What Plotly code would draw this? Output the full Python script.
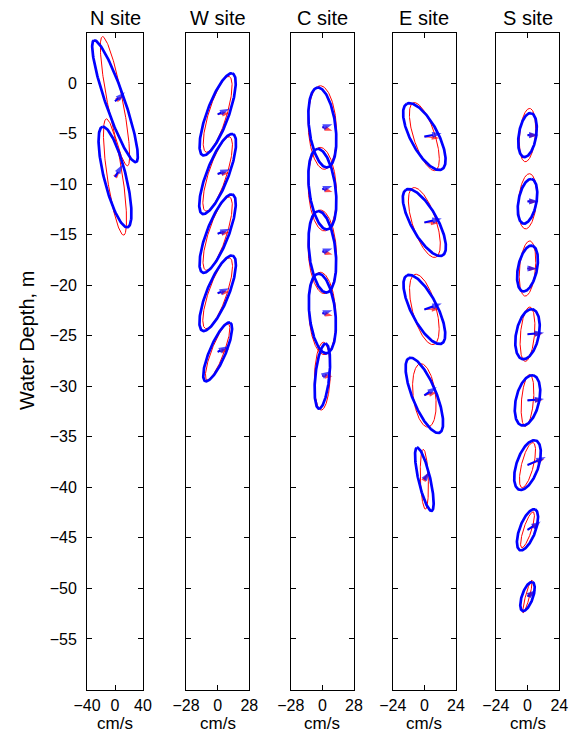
import numpy as np
import plotly.graph_objects as go

# ---------------- data (cm/s, degrees, m) ----------------
sites = ["N site", "W site", "C site", "E site", "S site"]
x_limits = [40, 28, 28, 24, 24]
depth_ticks = [0, -5, -10, -15, -20, -25, -30, -35, -40, -45, -50, -55]

# N site
N_depth = [-1.8, -9.3]
N_obs_major = [92.0, 74.0]
N_obs_minor = [13.6, 15.7]
N_obs_inc = [109.0, 104.0]
N_mod_major = [94.0, 84.0]
N_mod_minor = [11.0, 11.0]
N_mod_inc = [101.0, 98.5]
N_obs_arr_len = [19.0, 21.0]
N_obs_arr_dir = [42.0, 59.0]
N_mod_arr_len = [13.5, 11.0]
N_mod_arr_dir = [32.0, 50.0]

# W site
W_depth = [-3.1, -9.0, -14.9, -20.8, -26.6]
W_obs_major = [38.5, 37.8, 37.0, 35.8, 28.1]
W_obs_minor = [9.7, 9.7, 9.7, 9.7, 7.1]
W_obs_inc = [70.0, 69.0, 69.0, 68.0, 67.0]
W_mod_major = [35.0, 34.5, 34.0, 33.0, 26.5]
W_mod_minor = [8.0, 8.0, 8.0, 8.0, 5.5]
W_mod_inc = [73.0, 72.0, 72.0, 71.0, 69.0]
W_obs_arr_len = [11.5, 11.5, 11.5, 11.0, 10.5]
W_obs_arr_dir = [26.0, 22.0, 22.0, 24.0, 28.0]
W_mod_arr_len = [10.9, 10.5, 10.5, 10.5, 10.5]
W_mod_arr_dir = [5.0, 5.0, 5.0, 8.0, 12.0]

# C site
C_depth = [-4.4, -10.5, -16.7, -22.8, -29.0]
C_obs_major = [35.6, 35.9, 36.2, 35.4, 28.9]
C_obs_minor = [11.7, 11.7, 11.7, 11.5, 6.2]
C_obs_inc = [97.0, 97.0, 96.0, 96.0, 84.0]
C_mod_major = [37.0, 37.0, 37.0, 36.5, 30.0]
C_mod_minor = [12.5, 12.5, 12.5, 12.0, 7.0]
C_mod_inc = [93.0, 93.0, 93.0, 93.0, 88.0]
C_obs_arr_len = [9.3, 9.3, 9.3, 9.3, 8.5]
C_obs_arr_dir = [18.0, 18.0, 18.0, 18.0, 30.0]
C_mod_arr_len = [9.3, 9.3, 9.3, 9.3, 9.0]
C_mod_arr_dir = [-18.0, -15.0, -15.0, -12.0, 0.0]

# E site
E_depth = [-5.3, -13.8, -22.4, -30.9, -39.2]
E_obs_major = [28.2, 28.5, 29.0, 30.6, 24.6]
E_obs_minor = [10.4, 10.0, 9.9, 9.1, 4.5]
E_obs_inc = [118.0, 119.0, 117.0, 112.0, 103.0]
E_mod_major = [27.0, 27.7, 27.5, 24.2, 22.7]
E_mod_minor = [8.1, 9.0, 9.0, 8.5, 3.0]
E_mod_inc = [108.0, 108.0, 105.0, 97.0, 92.0]
E_obs_arr_len = [13.4, 13.6, 14.0, 11.4, 7.0]
E_obs_arr_dir = [11.0, 13.0, 19.0, 34.0, 55.0]
E_mod_arr_len = [11.4, 10.8, 11.4, 9.6, 4.5]
E_mod_arr_dir = [-6.0, -3.0, 2.0, 13.0, 60.0]

# S site
S_depth = [-5.15, -11.7, -18.35, -24.85, -31.4, -37.8, -44.2, -50.8]
S_obs_major = [16.8, 17.1, 17.6, 19.2, 19.4, 19.6, 16.4, 11.5]
S_obs_minor = [6.6, 6.8, 7.2, 8.6, 8.8, 8.3, 6.0, 4.2]
S_obs_inc = [81.0, 79.5, 78.5, 78.7, 77.0, 71.3, 69.8, 71.0]
S_mod_major = [20.2, 20.9, 20.9, 20.6, 19.6, 17.5, 14.2, 12.8]
S_mod_minor = [6.0, 6.8, 6.0, 5.3, 4.5, 4.5, 3.0, 1.5]
S_mod_inc = [85.0, 85.5, 85.0, 85.0, 85.0, 76.0, 72.0, 75.0]
S_obs_arr_len = [8.3, 8.3, 7.2, 12.6, 12.6, 15.1, 11.8, 8.1]
S_obs_arr_dir = [0.0, 0.0, 0.0, 5.0, 5.0, 24.0, 32.0, 38.0]
S_mod_arr_len = [7.5, 7.5, 6.8, 11.5, 11.5, 13.5, 10.5, 7.0]
S_mod_arr_dir = [-3.0, -3.0, -3.0, 2.0, 2.0, 20.0, 28.0, 35.0]

site_data = [
    (N_depth, N_obs_major, N_obs_minor, N_obs_inc, N_mod_major, N_mod_minor, N_mod_inc,
     N_obs_arr_len, N_obs_arr_dir, N_mod_arr_len, N_mod_arr_dir),
    (W_depth, W_obs_major, W_obs_minor, W_obs_inc, W_mod_major, W_mod_minor, W_mod_inc,
     W_obs_arr_len, W_obs_arr_dir, W_mod_arr_len, W_mod_arr_dir),
    (C_depth, C_obs_major, C_obs_minor, C_obs_inc, C_mod_major, C_mod_minor, C_mod_inc,
     C_obs_arr_len, C_obs_arr_dir, C_mod_arr_len, C_mod_arr_dir),
    (E_depth, E_obs_major, E_obs_minor, E_obs_inc, E_mod_major, E_mod_minor, E_mod_inc,
     E_obs_arr_len, E_obs_arr_dir, E_mod_arr_len, E_mod_arr_dir),
    (S_depth, S_obs_major, S_obs_minor, S_obs_inc, S_mod_major, S_mod_minor, S_mod_inc,
     S_obs_arr_len, S_obs_arr_dir, S_mod_arr_len, S_mod_arr_dir),
]

# ---------------- layout geometry (pixels) ----------------
W_PX, H_PX = 573, 737
panel_px = [(87, 143), (186, 249.3), (290.7, 354), (392.7, 456), (495.7, 559.3)]
top_px, bot_px = 32.5, 689.5
y_range = [-60, 5]
FONT = "Liberation Sans, Arial, Helvetica, sans-serif"

px_per_m = (bot_px - top_px) / (y_range[1] - y_range[0])

fig = go.Figure()
t = np.linspace(0, 2 * np.pi, 181)


def minus(v):
    return str(v).replace("-", "\u2212")


for i, (name, xl, (x0, x1), data) in enumerate(zip(sites, x_limits, panel_px, site_data)):
    (depth, ob_a, ob_b, ob_i, md_a, md_b, md_i, ob_L, ob_d, md_L, md_d) = data
    px_per_cms = (x1 - x0) / (2 * xl)
    k = px_per_cms / px_per_m  # m of plot per cm/s so ellipses keep true shape
    xa = "x" if i == 0 else f"x{i+1}"
    ya = "y" if i == 0 else f"y{i+1}"

    def ell(a, b, inc, d):
        th = np.deg2rad(inc)
        u = a * np.cos(t) * np.cos(th) - b * np.sin(t) * np.sin(th)
        v = a * np.cos(t) * np.sin(th) + b * np.sin(t) * np.cos(th)
        return u, d + v * k

    for kind, A, B, I, L, D, col, lw, ms in [
        ("model", md_a, md_b, md_i, md_L, md_d, "#ff0000", 1.0, 8),
        ("obs", ob_a, ob_b, ob_i, ob_L, ob_d, "#0000ff", 2.7, 10),
    ]:
        for j, d in enumerate(depth):
            xx, yy = ell(A[j], B[j], I[j], d)
            fig.add_trace(go.Scatter(x=xx, y=yy, mode="lines", xaxis=xa, yaxis=ya,
                                     line=dict(color=col, width=lw), hoverinfo="skip",
                                     showlegend=False))
        for j, d in enumerate(depth):
            ph = np.deg2rad(D[j])
            ax = [0, L[j] * np.cos(ph)]
            ay = [d, d + L[j] * np.sin(ph) * k]
            fig.add_trace(go.Scatter(x=ax, y=ay, mode="lines+markers", xaxis=xa, yaxis=ya,
                                     line=dict(color=col, width=lw * 0.8),
                                     marker=dict(symbol="arrow", size=[0, ms], angleref="previous",
                                                 color=col, line=dict(width=0)),
                                     hoverinfo="skip", showlegend=False))

    common = dict(showline=True, linecolor="black", linewidth=1, mirror="ticks",
                  ticks="inside", ticklen=5, tickcolor="black", tickwidth=1,
                  showgrid=False, zeroline=False, fixedrange=True, automargin=False,
                  tickfont=dict(family=FONT, size=16, color="black"))
    xkey = "xaxis" if i == 0 else f"xaxis{i+1}"
    ykey = "yaxis" if i == 0 else f"yaxis{i+1}"
    fig.update_layout(**{
        xkey: dict(domain=[x0 / W_PX, x1 / W_PX], range=[-xl, xl], anchor=ya,
                   tickvals=[-xl, 0, xl], ticktext=[minus(-xl), "0", str(xl)],
                   ticklabelstandoff=1, **common),
        ykey: dict(domain=[1 - bot_px / H_PX, 1 - top_px / H_PX], range=y_range, anchor=xa,
                   tickvals=depth_ticks, ticktext=[minus(v) for v in depth_ticks],
                   showticklabels=(i == 0), ticklabelstandoff=6, **common),
    })
    cx = (x0 + x1) / 2 / W_PX
    fig.add_annotation(x=cx, y=1 - 18 / H_PX, xref="paper", yref="paper", text=name,
                       showarrow=False, font=dict(family=FONT, size=20, color="black"),
                       xanchor="center", yanchor="middle")
    fig.add_annotation(x=cx, y=1 - 723 / H_PX, xref="paper", yref="paper", text="cm/s",
                       showarrow=False, font=dict(family=FONT, size=17, color="black"),
                       xanchor="center", yanchor="middle")

fig.add_annotation(x=27 / W_PX, y=1 - 341 / H_PX, xref="paper", yref="paper",
                   text="Water Depth, m", textangle=-90, showarrow=False,
                   font=dict(family=FONT, size=20, color="black"),
                   xanchor="center", yanchor="middle")

fig.update_layout(width=W_PX, height=H_PX, autosize=False,
                  margin=dict(l=0, r=0, t=0, b=0, pad=0, autoexpand=False),
                  paper_bgcolor="white", plot_bgcolor="white", showlegend=False)

post = ("document.body.style.margin='0px';document.body.style.padding='0px';"
        "document.documentElement.style.overflow='hidden';"
        "var gd=document.getElementById('{plot_id}');"
        "Plotly.relayout(gd,{width:573,height:737});")

fig.write_html("out.html", config={"displayModeBar": False, "responsive": False},
               post_script=post)
